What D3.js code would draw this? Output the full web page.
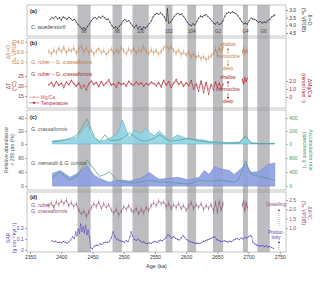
<!DOCTYPE html>
<html lang="en">
<head>
<meta charset="utf-8">
<title>Site record 2350-2750 ka</title>
<script src="https://cdnjs.cloudflare.com/ajax/libs/d3/7.8.5/d3.min.js"></script>
<style>
  body { margin: 0; background: #fff; }
  svg text { font-family: "Liberation Sans", Arial, sans-serif; }
</style>
</head>
<body>
<div id="chart"></div>
<script>
// ---- data ----
const bandLabels = ["96", "98", "100", "102", "104", "G2", "G4", "G6"];
const bandStart = [2426, 2482, 2514, 2567, 2602, 2643, 2691, 2714];
const bandEnd = [2447, 2497, 2540, 2578, 2616, 2659, 2699, 2734];

const ageTicks = [2350, 2400, 2450, 2500, 2550, 2600, 2650, 2700, 2750];

// (a) C. wuellerstorfi d18O
const bAge = [2382,2385,2388,2391,2394,2397,2400,2403,2406,2409,
  2412,2415,2418,2421,2424,2427,2430,2433,2436,2439,
  2442,2445,2448,2451,2454,2457,2460,2463,2466,2469,
  2472,2475,2478,2481,2484,2487,2490,2493,2496,2499,
  2502,2505,2508,2511,2514,2517,2520,2523,2526,2529,
  2532,2535,2538,2541,2544,2547,2550,2553,2556,2559,
  2562,2565,2568,2570,2572,2575,2578,2581,2584,2587,
  2590,2593,2596,2599,2602,2605,2608,2611,2614,2617,
  2620,2623,2626,2629,2632,2635,2638,2641,2644,2647,
  2650,2653,2656,2659,2662,2665,2668,2671,2674,2677,
  2680,2683,2686,2689,2692,2695,2698,2701,2704,2707,
  2710,2713,2716,2719,2722,2725,2728,2731,2734,2737,
  2740,2742];
const bO18 = [3.62,3.48,3.55,3.42,3.58,3.50,3.66,3.45,3.52,3.61,
  3.47,3.56,3.68,3.60,3.78,3.95,4.10,4.22,4.16,4.25,
  4.08,3.90,3.70,3.55,3.48,3.58,3.44,3.52,3.40,3.50,
  3.62,3.58,3.80,4.02,4.18,4.10,4.20,4.05,3.92,3.70,
  3.62,3.75,3.68,3.85,4.02,4.15,3.98,4.20,4.08,4.25,
  4.12,4.18,4.05,3.88,3.72,3.45,3.30,3.22,3.28,3.18,
  3.30,3.45,3.72,2.92,3.85,3.78,3.62,3.40,3.28,3.22,
  3.30,3.25,3.42,3.60,3.82,3.95,4.02,3.90,3.98,3.75,
  3.52,3.40,3.45,3.35,3.30,3.42,3.55,3.70,3.85,3.92,
  3.80,3.95,3.88,3.72,3.40,3.22,3.15,3.20,3.12,3.18,
  3.25,3.38,3.55,3.75,3.90,3.85,3.92,3.70,3.52,3.58,
  3.62,3.70,3.80,3.75,3.85,3.78,3.82,3.70,3.60,3.45,
  3.38,3.32];
const bO18Ticks = [3.0, 3.5, 4.0, 4.5];

// (b) and (d) G. ruber - G. crassaformis differences (same samples)
const diffAge = [2380,2384,2388,2392,2396,2400,2404,2408,2412,2416,
  2420,2424,2428,2432,2436,2440,2444,2448,2452,2456,
  2460,2464,2468,2472,2476,2480,2484,2488,2492,2496,
  2500,2504,2508,2512,2516,2520,2524,2528,2532,2536,
  2540,2544,2548,2552,2556,2560,2564,2568,2572,2576,
  2580,2584,2588,2592,2596,2600,2604,2608,2612,2616,
  2620,2624,2628,2632,2636,2640,2644,2647,2650,2653,
  2656,2659,2675,2690,2692,2694,2696,2698];
const diffO18 = [-3.05,-2.80,-3.20,-2.95,-3.35,-3.00,-3.45,-2.90,-3.25,-3.10,
  -3.40,-2.85,-3.30,-3.55,-3.05,-3.40,-2.95,-3.20,-2.80,-3.10,
  -3.35,-2.90,-3.15,-2.75,-3.05,-3.30,-2.85,-3.20,-2.95,-3.45,
  -3.10,-2.80,-3.30,-3.00,-3.40,-2.90,-3.25,-3.05,-3.50,-3.10,
  -2.85,-3.20,-2.95,-3.15,-2.80,-3.05,-3.40,-3.60,-3.30,-3.55,
  -3.15,-2.90,-3.20,-2.75,-3.00,-2.70,-2.95,-2.55,-2.80,-2.45,
  -2.65,-2.35,-2.55,-2.25,-2.45,-2.60,-2.90,-3.30,-2.85,-3.40,
  -3.10,-3.50,null,-3.00,-3.30,-2.90,-3.20,-3.05];
const diffO18Err = 0.3;
const diffT = [20.5,21.8,19.6,22.4,20.2,21.5,19.0,22.0,20.6,23.0,
  21.2,19.8,21.6,18.8,20.4,17.9,21.0,22.6,20.8,21.9,
  19.5,22.3,20.1,21.7,23.2,20.4,21.1,19.3,22.0,20.6,
  21.4,19.8,22.5,21.0,20.2,22.1,20.7,21.6,19.9,21.3,
  20.5,22.0,21.2,20.0,21.8,19.4,23.0,20.3,22.4,19.1,
  21.5,23.4,20.6,22.2,19.7,21.6,20.0,22.8,18.4,21.0,
  17.2,22.6,16.5,21.8,15.8,20.5,18.0,22.0,19.2,21.5,
  18.6,20.8,null,23.5,21.0,24.2,22.3,23.8];
const diffMgCa = [1.58,1.80,1.45,1.84,1.52,1.75,1.40,1.82,1.55,1.95,
  1.66,1.48,1.70,1.36,1.58,1.30,1.62,1.90,1.60,1.78,
  1.44,1.86,1.52,1.72,1.98,1.56,1.66,1.42,1.80,1.60,
  1.70,1.47,1.88,1.64,1.52,1.82,1.60,1.74,1.48,1.68,
  1.58,1.80,1.67,1.50,1.76,1.40,1.96,1.54,1.86,1.38,
  1.70,2.00,1.60,1.84,1.46,1.72,1.50,1.92,1.32,1.62,
  1.18,1.90,1.05,1.78,0.95,1.60,1.30,1.80,1.45,1.74,
  1.38,1.64,null,2.05,1.70,2.15,1.88,2.08];
const diffC13 = [2.20,2.35,2.10,2.40,2.25,2.45,2.30,2.50,2.20,2.35,
  2.15,2.30,1.95,1.75,1.90,1.62,1.85,2.10,2.30,2.15,
  2.40,2.05,2.30,2.10,2.25,1.95,1.80,2.00,1.70,1.90,
  2.15,2.00,2.20,1.95,1.85,2.05,1.75,2.00,1.80,2.10,
  1.95,2.20,2.35,2.20,2.45,2.30,2.40,2.15,2.30,2.05,
  2.25,2.10,2.30,2.05,2.20,1.95,2.15,2.35,2.05,2.25,
  2.10,2.30,2.00,2.20,2.05,2.25,1.90,2.35,1.85,2.40,
  2.00,2.30,null,2.20,2.45,1.95,2.35,2.10];
const diffC13Err = 0.15;
const dO18Ticks = [-4, -3, -2];
const tTicks = [15, 20, 25];
const mgTicks = [0, 1, 2];
const c13Ticks = [1.0, 1.5, 2.0, 2.5];

// (c) planktic foraminifera > 250 um
const faunaAge = [2386,2398,2414,2426,2441,2453,2461,2470,2477,2490,
  2498,2509,2517,2527,2535,2541,2549,2557,2573,2586,
  2605,2621,2629,2637,2645,2653,2669,2677,2685,2695,
  2704,2717,2730,2742];
const crassPct = [5,6,7,11,30,9,4,6,9,15, 37,9,21,16,24,18,13,20,6,14,
  7,7,6,4,4,3,2,3,3,10, 2,1,1,1];
const crassAR = [35,43,86,143,386,114,29,143,57,57, 86,171,114,57,43,60,86,143,43,57,
  86,43,40,29,25,14,14,14,14,129, 14,5,5,5];
const menPct = [36,44,25,36,58,30,22,15,11,16, 17,14,18,22,30,39,28,19,22,25,
  17,25,44,33,55,50,44,33,45,61, 39,41,61,66];
const menAR = [248,386,166,300,745,469,276,331,414,150, 110,95,83,120,150,166,140,110,110,83,
  55,166,150,138,150,166,130,110,200,717, 331,276,221,166];
const crassPctTicks = [0, 20, 40];
const crassARTicks = [0, 200, 400];
const menPctTicks = [0, 40, 80];
const menARTicks = [0, 400, 800];

// (d) sediment accumulation rate
const sarAge = [2385,2388,2391,2394,2397,2400,2403,2406,2409,2412,
  2415,2418,2421,2423,2425,2427,2429,2431,2433,2435,
  2437,2439,2441,2443,2445,2447,2450,2453,2456,2459,
  2462,2465,2468,2471,2474,2477,2480,2483,2486,2489,
  2492,2495,2498,2501,2504,2507,2510,2512,2514,2517,
  2520,2523,2526,2529,2532,2535,2538,2541,2544,2547,
  2550,2553,2556,2559,2562,2565,2568,2571,2574,2577,
  2580,2583,2586,2589,2592,2595,2598,2601,2604,2607,
  2610,2613,2616,2619,2622,2625,2628,2631,2634,2637,
  2640,2643,2646,2649,2652,2655,2658,2661,2664,2667,
  2670,2673,2676,2679,2682,2685,2688,2691,2694,2697,
  2700,2703,2705,2707,2710,2713,2716,2719,2722,2725,
  2728,2731,2734,2737,2740];
const sarVal = [0.085,0.075,0.080,0.068,0.072,0.065,0.078,0.070,0.062,0.075,
  0.090,0.120,0.105,0.165,0.130,0.190,0.150,0.235,0.170,0.210,
  0.160,0.225,0.140,0.180,0.120,0.020,0.012,0.035,0.045,0.040,
  0.058,0.050,0.065,0.072,0.068,0.080,0.110,0.165,0.120,0.100,
  0.090,0.082,0.078,0.070,0.085,0.075,0.120,0.165,0.130,0.095,
  0.088,0.100,0.085,0.070,0.075,0.062,0.058,0.065,0.060,0.072,
  0.078,0.070,0.082,0.090,0.085,0.100,0.115,0.140,0.125,0.110,
  0.122,0.105,0.098,0.092,0.110,0.130,0.115,0.095,0.082,0.075,
  0.070,0.065,0.060,0.062,0.058,0.070,0.078,0.085,0.092,0.098,
  0.105,0.115,0.120,0.095,0.088,0.080,0.075,0.085,0.078,0.072,
  0.080,0.075,0.090,0.098,0.105,0.095,0.110,0.100,0.115,0.108,
  0.122,0.130,0.125,0.070,0.055,0.045,0.040,0.035,0.042,0.030,
  0.038,0.028,0.032,0.022,0.015];
const sarTicks = [0, 0.1, 0.2];

// ---- layout ----
const width = 320, height = 282;
const left = 27, right = 286;
const panels = [[5, 36], [38, 108], [110, 190], [192, 252]];

const svg = d3.select("#chart").append("svg")
  .attr("width", width).attr("height", height);

const x = d3.scaleLinear().domain([2345, 2760]).range([left, right]);

const yB = d3.scaleLinear().domain([3.0, 4.5]).range([10, 33]);
const yO18 = d3.scaleLinear().domain([-4, -2]).range([42, 62]);
const yT = d3.scaleLinear().domain([15, 25]).range([96, 76]);
const yMg = d3.scaleLinear().domain([0, 2]).range([97, 81]);
const yCrass = d3.scaleLinear().domain([0, 40]).range([144, 118]);
const yCrassAR = d3.scaleLinear().domain([0, 400]).range([144, 118]);
const yMen = d3.scaleLinear().domain([0, 80]).range([186, 158]);
const yMenAR = d3.scaleLinear().domain([0, 800]).range([186, 158]);
const yC13 = d3.scaleLinear().domain([1.0, 2.5]).range([228, 200]);
const ySar = d3.scaleLinear().domain([0, 0.2]).range([250, 228]);

const col = {
  brown: "#bf7a40", red: "#a61e2d", redLight: "#d9575a",
  sky: "#92d4e6", skyEdge: "#45aecb", green: "#4c9c78",
  violet: "#8d9fe2", violetEdge: "#6478d2",
  mauve: "#8a4d6c", sar: "#5a42c2", band: "#bdbdc1", box: "#8a8a8a"
};

// glacial bands
svg.append("g").selectAll("rect")
  .data(bandLabels)
  .join("rect")
  .attr("x", (d, i) => x(bandStart[i]))
  .attr("width", (d, i) => x(bandEnd[i]) - x(bandStart[i]))
  .attr("y", panels[0][0])
  .attr("height", panels[3][1] - panels[0][0])
  .attr("fill", col.band);

svg.append("g").selectAll("text")
  .data(bandLabels)
  .join("text")
  .attr("x", (d, i) => (x(bandStart[i]) + x(bandEnd[i])) / 2)
  .attr("y", 33)
  .attr("text-anchor", "middle")
  .attr("font-size", 4.5)
  .attr("fill", "#444")
  .text(d => d);

// panel frames
svg.append("g").selectAll("rect")
  .data(panels)
  .join("rect")
  .attr("x", left).attr("y", d => d[0])
  .attr("width", right - left).attr("height", d => d[1] - d[0])
  .attr("fill", "none").attr("stroke", col.box).attr("stroke-width", 0.5);

function pts(ages, vals) {
  return ages.map((a, i) => ({ age: a, v: vals[i] }));
}

function drawSeries(ages, vals, yScale, color, opts = {}) {
  const data = pts(ages, vals);
  const g = svg.append("g");
  if (opts.err) {
    g.selectAll("line").data(data.filter(d => d.v != null)).join("line")
      .attr("x1", d => x(d.age)).attr("x2", d => x(d.age))
      .attr("y1", d => yScale(d.v - opts.err)).attr("y2", d => yScale(d.v + opts.err))
      .attr("stroke", color).attr("stroke-width", 0.45).attr("opacity", 0.8);
  }
  const line = d3.line().defined(d => d.v != null)
    .x(d => x(d.age)).y(d => yScale(d.v));
  g.append("path").datum(data).attr("d", line)
    .attr("fill", "none").attr("stroke", color)
    .attr("stroke-width", opts.w || 0.6).attr("stroke-linejoin", "round");
  if (opts.r) {
    g.selectAll("circle").data(data.filter(d => d.v != null)).join("circle")
      .attr("cx", d => x(d.age)).attr("cy", d => yScale(d.v)).attr("r", opts.r)
      .attr("fill", opts.hollow ? "#fff" : color)
      .attr("stroke", color).attr("stroke-width", opts.hollow ? 0.35 : 0);
  }
}

function drawArea(ages, vals, yScale, fill, edge) {
  const area = d3.area().x(d => x(d.age)).y0(yScale(0)).y1(d => yScale(d.v));
  svg.append("path").datum(pts(ages, vals)).attr("d", area)
    .attr("fill", fill).attr("fill-opacity", 0.9)
    .attr("stroke", edge).attr("stroke-width", 0.5);
}

// (a)
drawSeries(bAge, bO18, yB, "#222", { r: 0.55, w: 0.55 });
// (b)
drawSeries(diffAge, diffO18, yO18, col.brown, { err: diffO18Err, r: 0.5, w: 0.55 });
drawSeries(diffAge, diffMgCa, yMg, col.redLight, { r: 0.6, hollow: true, w: 0.5 });
drawSeries(diffAge, diffT, yT, col.red, { r: 0.5, w: 0.55 });
// (c)
drawArea(faunaAge, crassPct, yCrass, col.sky, col.skyEdge);
drawSeries(faunaAge, crassAR, yCrassAR, col.green, { w: 0.7 });
drawArea(faunaAge, menPct, yMen, col.violet, col.violetEdge);
drawSeries(faunaAge, menAR, yMenAR, col.green, { w: 0.7 });
// (d)
drawSeries(diffAge, diffC13, yC13, col.mauve, { err: diffC13Err, r: 0.5, w: 0.55 });
drawSeries(sarAge, sarVal, ySar, col.sar, { r: 0.6, w: 0.55 });

// axes
const fmt1 = d => d.toFixed(1);
const fmt0 = d => d === 0 ? "0" : d.toFixed(1);

function yAxis(scale, side, ticks, format, color) {
  const ax = (side === "left" ? d3.axisLeft(scale) : d3.axisRight(scale))
    .tickValues(ticks).tickFormat(format).tickSize(2).tickPadding(1.2);
  const g = svg.append("g")
    .attr("transform", `translate(${side === "left" ? left : right},0)`)
    .call(ax);
  g.attr("font-size", 5).attr("font-family", "Liberation Sans, Arial, sans-serif");
  g.select(".domain").remove();
  g.selectAll("line").attr("stroke", color).attr("stroke-width", 0.5);
  g.selectAll("text").attr("fill", color);
}

yAxis(yB, "right", bO18Ticks, fmt1, "#333");
yAxis(yO18, "left", dO18Ticks, fmt1, col.brown);
yAxis(yT, "left", tTicks, d => d, col.red);
yAxis(yMg, "right", mgTicks, fmt0, col.red);
yAxis(yCrass, "left", crassPctTicks, d => d, "#555");
yAxis(yCrassAR, "right", crassARTicks, d => d, col.green);
yAxis(yMen, "left", menPctTicks, d => d, "#555");
yAxis(yMenAR, "right", menARTicks, d => d, col.green);
yAxis(yC13, "right", c13Ticks, fmt1, col.mauve);
yAxis(ySar, "left", sarTicks, fmt0, col.sar);

const xg = svg.append("g")
  .attr("transform", `translate(0,${panels[3][1]})`)
  .call(d3.axisBottom(x).tickValues(ageTicks).tickFormat(d3.format("d")).tickSize(2).tickPadding(1.5));
xg.attr("font-size", 5).attr("font-family", "Liberation Sans, Arial, sans-serif");
xg.select(".domain").remove();
xg.selectAll("line").attr("stroke", "#444").attr("stroke-width", 0.5);
xg.selectAll("text").attr("fill", "#333");

svg.append("text").attr("x", (left + right) / 2).attr("y", 268)
  .attr("text-anchor", "middle").attr("font-size", 5.5).attr("fill", "#333")
  .text("Age (ka)");

// rotated axis titles
function vTitle(lines, cx, cy, color, side) {
  const rot = side === "left" ? -90 : 90;
  lines.forEach((t, i) => {
    const off = side === "left" ? 1.8 + i * 6.2 : -1.8 - i * 6.2;
    svg.append("text")
      .attr("transform", `translate(${cx + off},${cy}) rotate(${rot})`)
      .attr("text-anchor", "middle").attr("font-size", 5.2).attr("fill", color)
      .text(t);
  });
}
vTitle(["Δδ¹⁸O", "(‰ VPDB)"], 8, 52, col.brown, "left");
vTitle(["ΔT", "(°C)"], 8, 86, col.red, "left");
vTitle(["Relative abundance", "> 250 µm (%)"], 6, 150, "#555", "left");
vTitle(["SAR", "(g cm⁻² kyr⁻¹)"], 8, 238, col.sar, "left");
vTitle(["δ¹⁸O", "(‰ VPDB)"], 310, 20, "#333", "right");
vTitle(["ΔMg/Ca", "(mmol mol⁻¹)"], 310, 88, col.red, "right");
vTitle(["Accumulation rate", "(specimens g⁻¹)"], 311, 150, col.green, "right");
vTitle(["Δδ¹³C", "(‰ VPDB)"], 310, 213, col.mauve, "right");

// panel letters and species labels
function label(txt, px, py, color, opts = {}) {
  const t = svg.append("text").attr("x", px).attr("y", py)
    .attr("font-size", opts.size || 5.2).attr("fill", color);
  if (opts.bold) t.attr("font-weight", "bold");
  txt.forEach(([s, it]) => t.append("tspan").attr("font-style", it ? "italic" : "normal").text(s));
}
label([["(a)"]], 30, 13, "#222", { bold: true, size: 5.5 });
label([["(b)"]], 30, 45, "#222", { bold: true, size: 5.5 });
label([["(c)"]], 30, 119, "#222", { bold: true, size: 5.5 });
label([["(d)"]], 30, 199, "#222", { bold: true, size: 5.5 });
label([["C. wuellerstorfi", true]], 31, 29, "#444");
label([["G. ruber", true], [" – "], ["G. crassaformis", true]], 31, 64, col.brown);
label([["G. ruber", true], [" – "], ["G. crassaformis", true]], 31, 76, col.red);
label([["G. crassaformis", true]], 31, 131, "#555");
label([["G. menardii", true], [" & "], ["G. tumida", true]], 31, 165, "#555");
label([["G. ruber", true], [" –"]], 31, 207, col.mauve);
label([["G. crassaformis", true]], 31, 213, col.mauve);

// legend (b)
[["Mg/Ca", col.redLight, true, 99], ["Temperature", col.red, false, 104.5]].forEach(([t, c, hollow, ly]) => {
  svg.append("line").attr("x1", 29).attr("x2", 39).attr("y1", ly - 1.7).attr("y2", ly - 1.7)
    .attr("stroke", c).attr("stroke-width", 0.5);
  svg.append("circle").attr("cx", 34).attr("cy", ly - 1.7).attr("r", 0.9)
    .attr("fill", hollow ? "#fff" : c).attr("stroke", c).attr("stroke-width", 0.4);
  svg.append("text").attr("x", 41).attr("y", ly).attr("font-size", 4.8).attr("fill", c).text(t);
});

// arrows & annotations
function arrow(ax, y1, y2, color, dashed) {
  svg.append("line").attr("x1", ax).attr("x2", ax).attr("y1", y1).attr("y2", y2)
    .attr("stroke", color).attr("stroke-width", 0.5)
    .attr("stroke-dasharray", dashed ? "1,1" : null);
  const s = y2 < y1 ? 1 : -1;
  svg.append("path")
    .attr("d", `M${ax},${y2} L${ax - 1.1},${y2 + s * 2} L${ax + 1.1},${y2 + s * 2} Z`)
    .attr("fill", color);
}
function note(t, nx, ny, color) {
  svg.append("text").attr("x", nx).attr("y", ny).attr("text-anchor", "middle")
    .attr("font-size", 4.6).attr("fill", color).text(t);
}
const ax = 228;
note("shallow", ax, 46, col.brown);
arrow(ax, 54, 48, col.brown);
note("thermocline", ax, 58, col.brown);
arrow(ax, 60, 66, col.brown);
note("deep", ax, 70, col.brown);
note("shallow", ax, 79, col.red);
arrow(ax, 87, 81, col.red);
note("thermocline", ax, 91, col.red);
arrow(ax, 93, 99, col.red);
note("deep", ax, 103, col.red);

note("Upwelling", 276, 206, col.mauve);
arrow(279, 226, 209, col.mauve, true);
note("Produc-", 276, 234, col.sar);
note("tivity", 276, 239, col.sar);
arrow(279, 250, 241, col.sar, true);
</script>
</body>
</html>
